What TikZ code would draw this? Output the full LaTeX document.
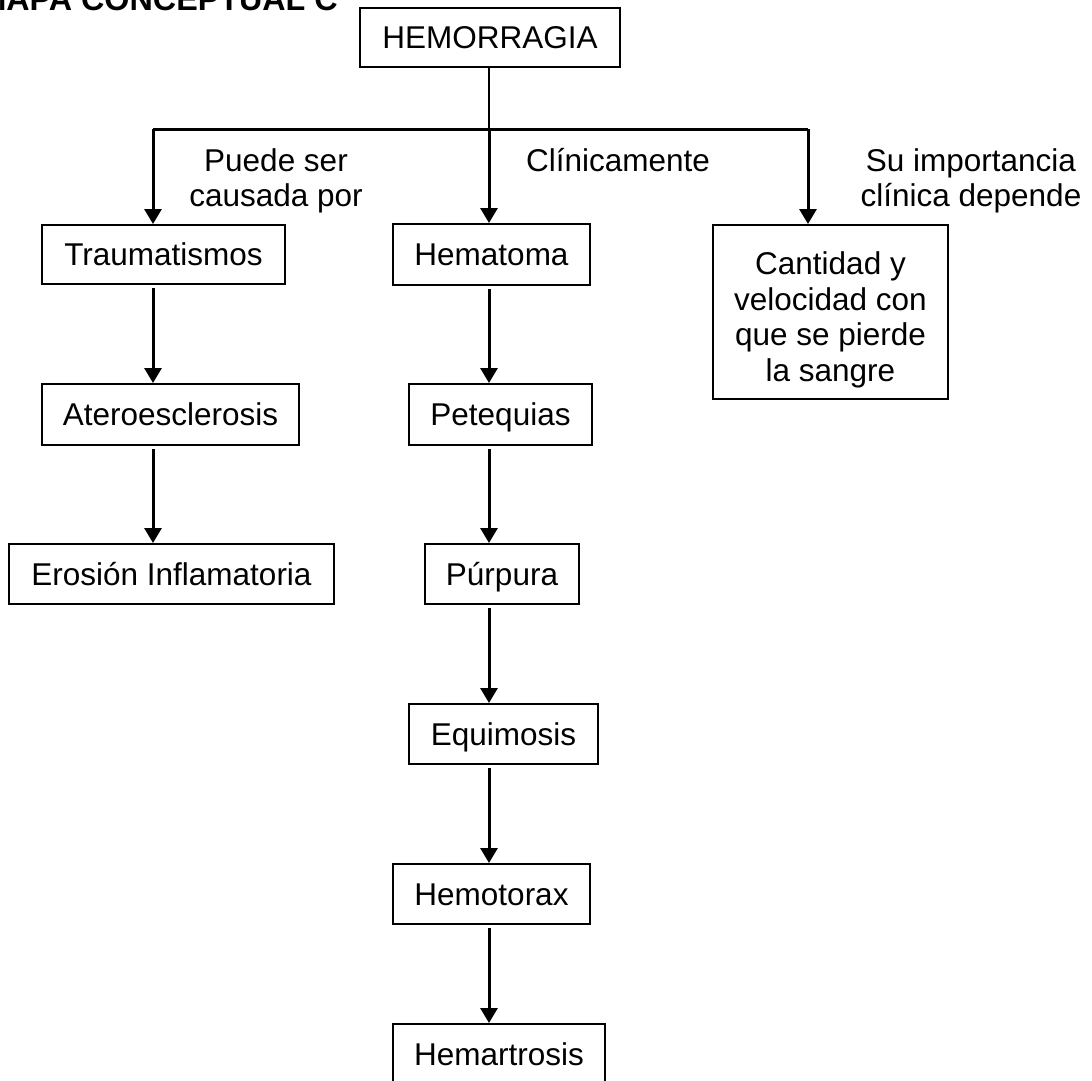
\documentclass[tikz,border=0pt]{standalone}
\usepackage{fontspec}
\setmainfont{Liberation Sans}
\usetikzlibrary{arrows.meta}
\begin{document}
\begin{tikzpicture}[x=1pt,y=-1pt,
  box/.style={draw=black, line width=2pt, inner sep=0pt, align=center,
    font=\fontsize{31.5}{35.5}\selectfont},
  onebox/.style={box, text height=22.5pt, text depth=0pt},
  lbl/.style={inner sep=0pt, align=center, font=\fontsize{31.5}{35.5}\selectfont},
  link/.style={line width=3pt, -{Triangle[width=17pt,length=15pt]}},
  chain/.style={link, shorten <=3pt},
  bar/.style={line width=3pt}]
\useasboundingbox (0,0) rectangle (1092,1081);
\clip (0,0) rectangle (1092,1081);
\fill[white] (0,0) rectangle (1092,1081);

% title
\node[anchor=base east, inner sep=0pt, font=\fontsize{32.3}{38}\selectfont\bfseries] (title) at (338,11) {MAPA CONCEPTUAL C};

% root
\node[onebox, minimum width=260pt, minimum height=59pt] (hem) at (490,37.5) {HEMORRAGIA};

% branch points
\coordinate (jl) at (153,129);
\coordinate (jc) at (489,129);
\coordinate (jr) at (808,129);

% causes
\node[onebox, minimum width=243pt, minimum height=59pt] (trau) at (163.5,254.5) {Traumatismos};
\node[onebox, minimum width=257pt, minimum height=61pt] (ater) at (170.5,414.5) {Ateroesclerosis};
\node[onebox, minimum width=325pt, minimum height=60pt] (eros) at (171.5,574) {Erosión Inflamatoria};

% clinical forms
\node[onebox, minimum width=197pt, minimum height=61pt] (hema) at (491.5,254.5) {Hematoma};
\node[onebox, minimum width=183pt, minimum height=61pt] (pete) at (500.5,414.5) {Petequias};
\node[onebox, minimum width=154pt, minimum height=60pt] (purp) at (502,574) {Púrpura};
\node[onebox, minimum width=189pt, minimum height=60pt] (equi) at (503.5,734) {Equimosis};
\node[onebox, minimum width=197pt, minimum height=60pt] (hemo) at (491.5,894) {Hemotorax};
\node[onebox, minimum width=212pt, minimum height=60pt] (hemar) at (499,1054) {Hemartrosis};

% importance (taller text box lowers the four lines a little)
\node[box, minimum width=235pt, minimum height=174pt, text height=145.5pt, text depth=7pt] (cant) at (830.5,312) {Cantidad y\\velocidad con\\que se pierde\\la sangre};

% branch labels (base anchor sits on the last line)
\node[lbl, anchor=base] (l1) at (276,206.5) {Puede ser\\causada por};
\node[lbl, anchor=base] (l2) at (618,171) {Clínicamente};
\node[lbl, anchor=base] (l3) at (971,206.5) {Su importancia\\clínica depende};

% connectors
\draw[line width=2pt] (hem.south -| jc) -- (jc);
\draw[bar] (jl) -- (jr);
\draw[link] (jl) -- (trau.north -| jl);
\draw[link] (jc) -- (hema.north -| jc);
\draw[link] (jr) -- (cant.north -| jr);

\draw[chain] (trau.south -| jl) -- (ater.north -| jl);
\draw[chain] (ater.south -| jl) -- (eros.north -| jl);

\draw[chain] (hema.south -| jc) -- (pete.north -| jc);
\draw[chain] (pete.south -| jc) -- (purp.north -| jc);
\draw[chain] (purp.south -| jc) -- (equi.north -| jc);
\draw[chain] (equi.south -| jc) -- (hemo.north -| jc);
\draw[chain] (hemo.south -| jc) -- (hemar.north -| jc);
\end{tikzpicture}
\end{document}
